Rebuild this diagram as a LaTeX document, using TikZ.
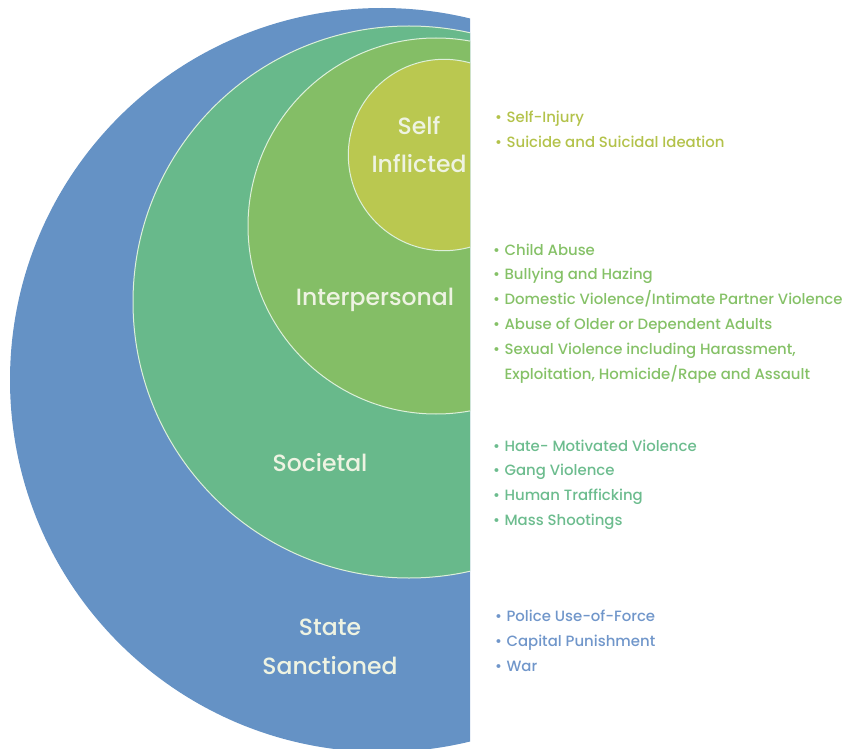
\documentclass[tikz,border=0pt]{standalone}
\usepackage{fontspec}
\setmainfont{Poppins}[UprightFont={* Medium}]
\definecolor{stateblue}{HTML}{6592C5}
\definecolor{socteal}{HTML}{68B98B}
\definecolor{intgreen}{HTML}{84BE66}
\definecolor{selfyellow}{HTML}{BAC850}
\definecolor{ringline}{HTML}{DDF0DA}
\definecolor{labeltext}{HTML}{EEF3E2}
\definecolor{selflist}{HTML}{B3C24A}
\definecolor{intlist}{HTML}{85C167}
\definecolor{soclist}{HTML}{6CBC8E}
\definecolor{statelist}{HTML}{7096CA}
\newcommand{\itemdot}{•\hspace{4.5pt}}
\tikzset{
  ring/.style={draw=ringline, line width=1pt},
  circlelabel/.style={anchor=base, inner sep=0pt, text=labeltext,
    font=\fontsize{23.5}{28}\selectfont},
  listitem/.style={anchor=base west, inner sep=0pt,
    font=\fontsize{14.9}{17}\selectfont}
}
\begin{document}
\begin{tikzpicture}[x=1pt, y=-1pt]
\useasboundingbox (0,0) rectangle (849,749);

% nested rings, left halves only
\begin{scope}
  \clip (0,0) rectangle (470,749);
  \fill[stateblue] (382,380) circle[radius=372pt];
  \fill[socteal, ring] (409,302) circle[radius=276pt];
  \fill[intgreen, ring] (436,226) circle[radius=188pt];
  \fill[selfyellow, ring] (444,155) circle[radius=95.7pt];
\end{scope}

% ring labels
\node[circlelabel] (selfA) at (419,135) {Self};
\node[circlelabel] (selfB) at (419,173) {Inflicted};
\node[circlelabel] (inter) at (375,305) {Interpersonal};
\node[circlelabel] (soc) at (320,471) {Societal};
\node[circlelabel] (stateA) at (330,635) {State};
\node[circlelabel] (stateB) at (330,674) {Sanctioned};

% self-inflicted examples
\node[listitem, text=selflist] (s1) at (495,123) {\itemdot Self-Injury};
\node[listitem, text=selflist] (s2) at (495,148) {\itemdot Suicide and Suicidal Ideation};

% interpersonal examples
\node[listitem, text=intlist] (i1) at (493,255) {\itemdot Child Abuse};
\node[listitem, text=intlist] (i2) at (493,279.8) {\itemdot Bullying and Hazing};
\node[listitem, text=intlist] (i3) at (493,304.6) {\itemdot Domestic Violence/Intimate Partner Violence};
\node[listitem, text=intlist] (i4) at (493,329.4) {\itemdot Abuse of Older or Dependent Adults};
\node[listitem, text=intlist] (i5) at (493,354.2) {\itemdot Sexual Violence including Harassment,};
\node[listitem, text=intlist] (i6) at (493,379) {\phantom{\itemdot}Exploitation, Homicide/Rape and Assault};

% societal examples
\node[listitem, text=soclist] (c1) at (493,451) {\itemdot Hate- Motivated Violence};
\node[listitem, text=soclist] (c2) at (493,475.7) {\itemdot Gang Violence};
\node[listitem, text=soclist] (c3) at (493,500.4) {\itemdot Human Trafficking};
\node[listitem, text=soclist] (c4) at (493,525) {\itemdot Mass Shootings};

% state-sanctioned examples
\node[listitem, text=statelist] (t1) at (495,621) {\itemdot Police Use-of-Force};
\node[listitem, text=statelist] (t2) at (495,646) {\itemdot Capital Punishment};
\node[listitem, text=statelist] (t3) at (495,671) {\itemdot War};
\end{tikzpicture}
\end{document}
